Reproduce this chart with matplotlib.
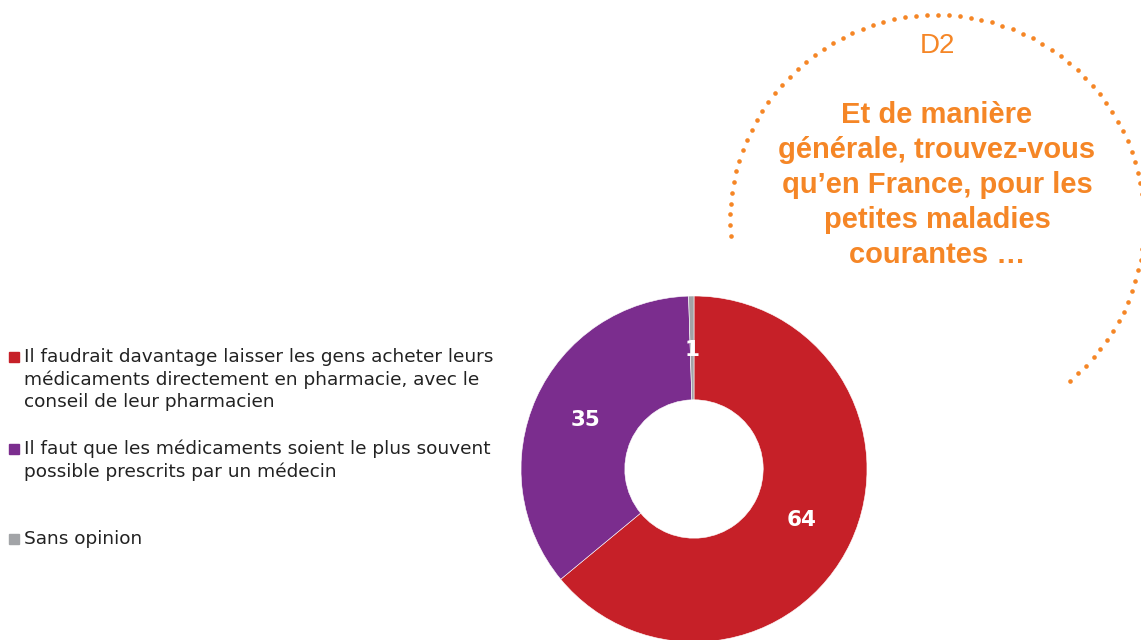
import numpy as np
import matplotlib.pyplot as plt

# data
categories = [
    "Il faudrait davantage laisser les gens acheter leurs\nmédicaments directement en pharmacie, avec le\nconseil de leur pharmacien",
    "Il faut que les médicaments soient le plus souvent\npossible prescrits par un médecin",
    "Sans opinion",
]
values = [64, 35.5, 0.5]
value_labels = ["64", "35", "1"]
colors = ["#C62028", "#7B2D8E", "#A2A4A7"]
orange = "#F58626"

plt.rcParams["font.family"] = ["DejaVu Sans"]

W, H = 1141, 640
fig = plt.figure(figsize=(W / 100, H / 100), dpi=100)

# donut
cx, cy, r = 694, 469, 173
ax = fig.add_axes([(cx - r) / W, (H - cy - r) / H, 2 * r / W, 2 * r / H])
wedges, _ = ax.pie(values, colors=colors, startangle=90, counterclock=False,
                   radius=1, wedgeprops=dict(width=0.6, edgecolor="white", linewidth=0.4))
ax.set_xlim(-1, 1)
ax.set_ylim(-1, 1)
ax.set_aspect("equal")
for w, lab in zip(wedges, value_labels):
    ang = np.deg2rad((w.theta1 + w.theta2) / 2)
    ax.text(0.69 * np.cos(ang), 0.69 * np.sin(ang), lab, color="white",
            fontsize=15.5, fontweight="heavy", ha="center", va="center",
            family=["DejaVu Sans"])

# overlay in pixel coordinates for legend and title bubble
ov = fig.add_axes([0, 0, 1, 1], zorder=-1)
ov.set_xlim(0, W)
ov.set_ylim(H, 0)
ov.axis("off")

leg_y = [357, 449, 539]
for y, lab, c in zip(leg_y, categories, colors):
    ov.add_patch(plt.Rectangle((9, y - 5), 10, 10, color=c))
    ov.text(24, y - 9, lab, fontsize=13.3, color="#222222", va="top", ha="left",
            linespacing=1.3, family=["DejaVu Sans"])

# dotted arc
bx, by, br = 937, 222, 207
theta = np.deg2rad(np.linspace(184, -50, 78))
ov.scatter(bx + br * np.cos(theta), by - br * np.sin(theta), s=11, color=orange, lw=0)

ov.text(937, 46, "D2", fontsize=20, color=orange, ha="center", va="center",
        family="Liberation Sans")
ov.text(937, 185, "Et de manière\ngénérale, trouvez-vous\nqu\u2019en France, pour les\npetites maladies\ncourantes \u2026",
        fontsize=21, color=orange, ha="center", va="center", fontweight="bold",
        family="Liberation Sans", linespacing=1.32)

fig.savefig("out.png", dpi=100)
